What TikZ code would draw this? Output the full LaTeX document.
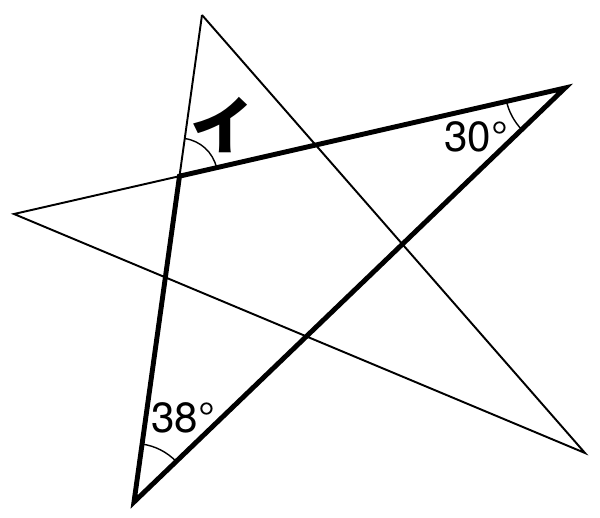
\documentclass[tikz,border=0pt]{standalone}
\usepackage{fontspec}
\setmainfont{TeX Gyre Heros}
\newfontfamily\jpfont{Noto Sans CJK JP}
\usetikzlibrary{angles}

\begin{document}
\begin{tikzpicture}[x=0.02cm,y=-0.02cm]
\tikzstyle{thinline}=[line width=1.1pt, line join=miter]
\tikzstyle{thickline}=[line width=2.8pt, line join=miter]
\tikzstyle{anglearc}=[draw, line width=0.8pt]
\tikzstyle{label}=[inner sep=0pt, font=\fontsize{24}{27}\selectfont]
\useasboundingbox (0,0) rectangle (600,518);
% star vertices
\coordinate (top) at (202,15);
\coordinate (rtop) at (565,88);
\coordinate (rbot) at (585,453);
\coordinate (blft) at (134,502);
\coordinate (lft) at (14,214);
\coordinate (cross) at (intersection of top--blft and lft--rtop);
% thin star
\draw [thinline] (top) -- (cross);
\draw [thinline] (top) -- (rbot) -- (lft) -- (cross);
% thick triangle
\draw [thickline] (cross) -- (rtop) -- (blft) -- cycle;
% angle marks
\pic [anglearc, angle radius=0.76cm] {angle = rtop--cross--top};
\pic [anglearc, angle radius=1.2cm] {angle = lft--rtop--blft};
\pic [anglearc, angle radius=1.17cm] {angle = rtop--blft--top};
% labels
\node [label, font=\jpfont\bfseries\fontsize{36}{38}\selectfont] (ia) at (222,125) {イ};
\node [label] (thirty) at (476,137) {30°};
\node [label] (eight) at (183,418) {38°};
\end{tikzpicture}
\end{document}
